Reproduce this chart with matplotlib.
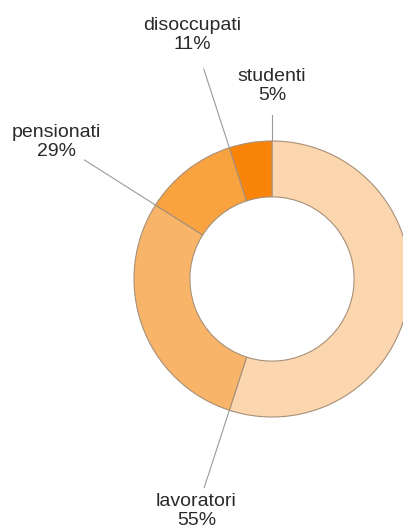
import numpy as np
import matplotlib.pyplot as plt

categorie = ['lavoratori', 'pensionati', 'disoccupati', 'studenti']
percentuali = [55, 29, 11, 5]
colori = ['#FBD6AE', '#F8B56A', '#F8A240', '#FA8407']

plt.rcParams['font.family'] = ['Liberation Sans', 'DejaVu Sans']

fig = plt.figure(figsize=(4.03, 5.28), dpi=100)
ax = fig.add_axes([0, 0, 1, 1])

ax.pie(percentuali, colors=colori, startangle=90, counterclock=False, radius=1,
       wedgeprops=dict(width=0.405, edgecolor='#A89078', linewidth=0.8))

# leader lines run along the end boundary of each slice
fine_linea = [1.59, 1.61, 1.60, 1.19]
pos_testo = [1.77, 1.85, 1.86, 1.40]
cum = np.cumsum(percentuali) / np.sum(percentuali)
for i, nome in enumerate(categorie):
    ang = np.deg2rad(90 - 360 * cum[i])
    ax.plot([np.cos(ang), fine_linea[i] * np.cos(ang)],
            [np.sin(ang), fine_linea[i] * np.sin(ang)],
            color='#9a9a9a', lw=0.8, zorder=0)
    ax.text(pos_testo[i] * np.cos(ang), pos_testo[i] * np.sin(ang),
            '%s\n%d%%' % (nome, percentuali[i]), ha='center', va='center',
            fontsize=14, color='#2a2a2a', linespacing=1.15)

ax.set_xlim(-272 / 138, (403 - 272) / 138)
ax.set_ylim(-249 / 138, 279 / 138)
ax.set_aspect('auto')
ax.axis('off')

fig.savefig('out.png', dpi=100)
